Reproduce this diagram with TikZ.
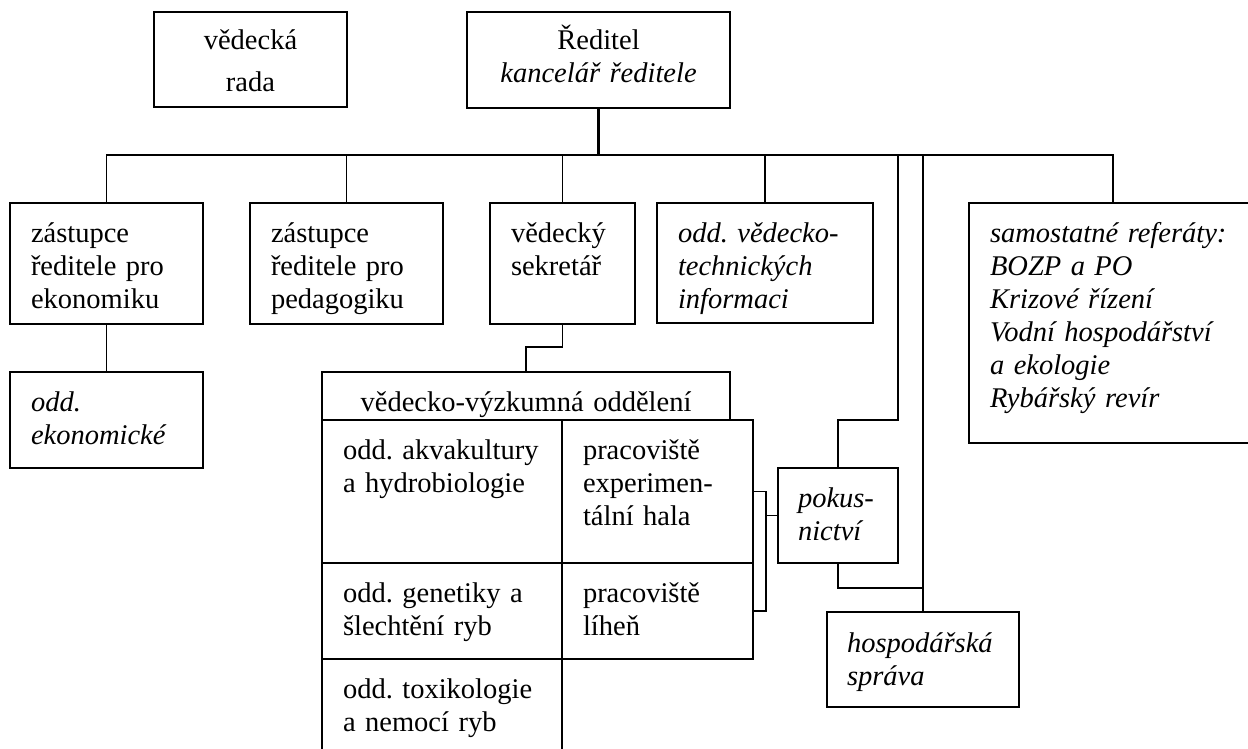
\documentclass[tikz,border=0pt]{standalone}
\usepackage{fontspec}
\setmainfont{Liberation Serif}
\newcommand\fs{\fontsize{28.5pt}{33pt}\selectfont\hyphenpenalty=10000\exhyphenpenalty=10000 }
\newcommand\fsw{\fontsize{28.5pt}{42pt}\selectfont}
\begin{document}
\begin{tikzpicture}[x=1pt,y=-1pt,
  bx/.style={draw, line width=1.8pt, anchor=north west, inner ysep=0pt, inner xsep=21pt,
             outer sep=0pt, align=left, font=\fs, text height=39pt},
  cbx/.style={bx, align=center, inner xsep=10pt, text height=38pt},
  itx/.style={font=\fs\itshape},
  ln/.style={line width=1.8pt},
  thk/.style={line width=2.8pt}]
\useasboundingbox (0,0) rectangle (1248,749);
\fill[white] (0,0) rectangle (1248,749);
\clip (0,0) rectangle (1248,749);

% top row
\node[cbx, font=\fsw, text width=173pt, text depth=57pt] (vr) at (154,12) {vědecká\\rada};
\node[cbx, text width=243pt, text depth=58pt] (red) at (467,12) {Ředitel\\\textit{kancelář~ředitele}};

% second row
\node[bx, text width=151pt, text depth=82pt] (eko) at (10,203) {zástupce\\ředitele~pro\\ekonomiku};
\node[bx, text width=151pt, text depth=82pt] (ped) at (250,203) {zástupce\\ředitele~pro\\pedagogiku};
\node[bx, text width=103pt, text depth=82pt] (sek) at (490,203) {vědecký\\sekretář};
\node[bx, itx, text width=174pt, text depth=81pt] (vti) at (657,203) {odd.~vědecko-\\technických\\informaci};
\node[bx, itx, text width=246pt, text depth=201pt] (sam) at (969,203) {samostatné~referáty:\\BOZP~a~PO\\Krizové~řízení\\Vodní~hospodářství\\a~ekologie\\Rybářský~revír};

% economic dept
\node[bx, itx, text width=151pt, text depth=57pt] (ekd) at (10,372) {odd.\\ekonomické};

% research departments table
\node[cbx, text height=39pt, text width=388pt, text depth=9pt] (hdr) at (322,372) {vědecko-výzkumná~oddělení};
\node[bx, text width=198pt, text depth=104pt] (akva) at (322,420) {odd.~akvakultury\\a~hydrobiologie};
\node[bx, text width=149pt, text depth=104pt] (prac) at (562,420) {pracoviště\\experimen-\\tální~hala};
\node[bx, text width=198pt, text depth=57pt] (gen) at (322,563) {odd.~genetiky~a\\šlechtění~ryb};
\node[bx, text width=149pt, text depth=57pt] (lih) at (562,563) {pracoviště\\líheň};
\node[bx, text width=198pt, text depth=71pt] (tox) at (322,659) {odd.~toxikologie\\a~nemocí~ryb};

% right side
\node[bx, itx, inner xsep=20pt, text width=80pt, text depth=56pt] (pok) at (778,468) {pokus-\\nictví};
\node[bx, itx, inner xsep=20pt, text width=152pt, text height=40pt, text depth=55pt] (hos) at (827,612) {hospodářská\\správa};

% connectors
\draw[thk] (red.south) -- ++(0,47) coordinate (hub);
\draw[ln] (eko.north) |- (hub);
\draw[ln] (ped.north) |- (hub);
\draw[ln] (sek.north) |- (hub);
\draw[ln] (vti.north) |- (hub);
\draw[ln] (sam.north) |- (hub);
\coordinate (pk) at (898,420);
\draw[ln] (pok.north) |- (pk) |- (hub);
\draw[ln] (hos.north) |- (hub);
\coordinate (hk) at (923,588);
\draw[ln] (pok.south) |- (hk);
\draw[ln] (eko.south) -- (ekd.north);
\draw[ln] (sek.south) -- ++(0,23) -| (hdr.north);
\draw[ln] (prac.east) -- ++(13,0) coordinate (b1) -- (b1 |- lih.east) -- (lih.east);
\draw[ln] (pok.west) -- (pok.west -| b1);
\end{tikzpicture}
\end{document}
